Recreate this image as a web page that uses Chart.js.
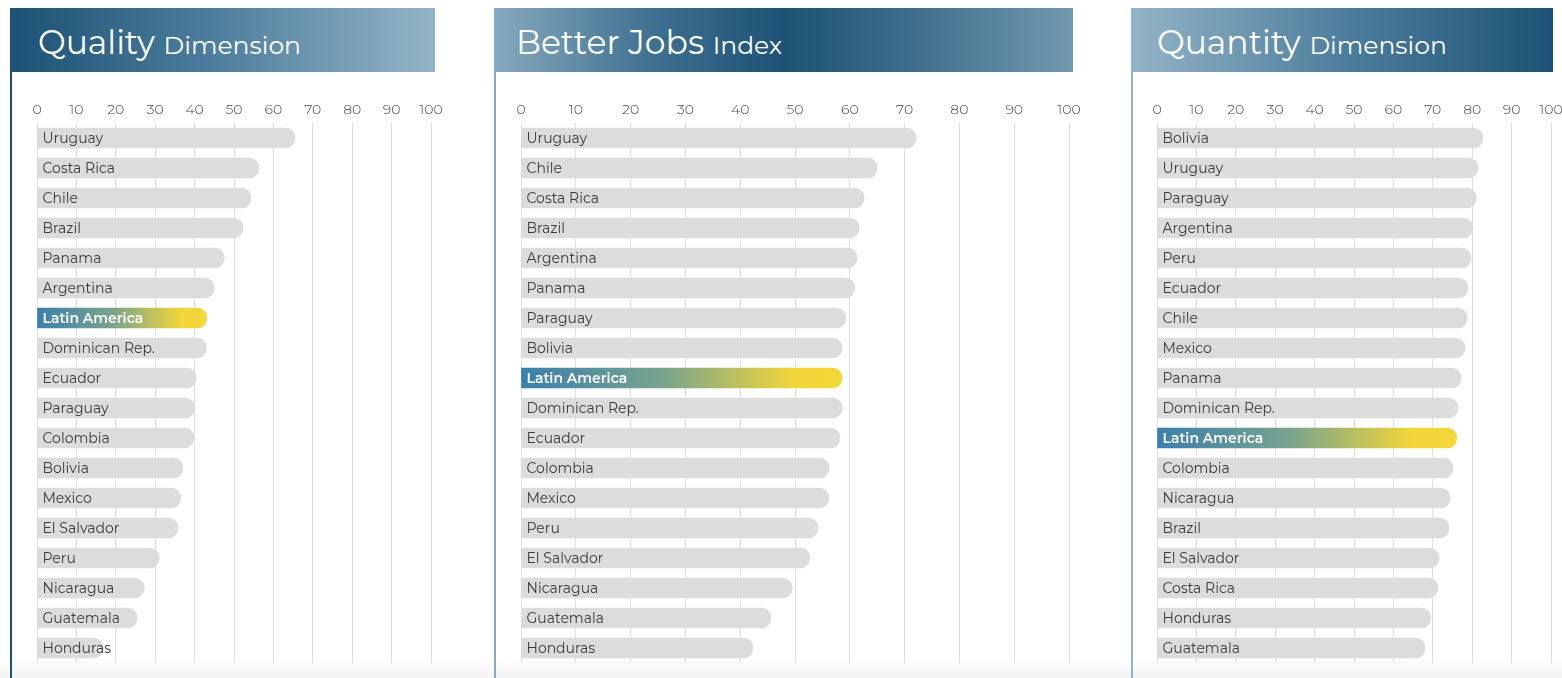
<!DOCTYPE html>
<html>
<head>
<meta charset="utf-8">
<script src="https://cdn.jsdelivr.net/npm/chart.js@4"></script>
<style>
  body { margin: 0; width: 1562px; height: 678px; background: #fff; overflow: hidden; position: relative; font-family: "Montserrat", "Open Sans", sans-serif; }
  .strip { position: absolute; left: 0; top: 656px; width: 1562px; height: 22px; background: linear-gradient(#fff, #f3f3f3); }
  .edge { position: absolute; top: 8px; width: 2px; height: 670px; }
  .head { position: absolute; top: 8px; height: 64px; color: #fff; }
  .head span.big { position: absolute; left: 26px; top: 14px; font-size: 33px; white-space: nowrap; }
  .head span.big small { font-size: 25px; }
  canvas { position: absolute; }
</style>
</head>
<body>
<div class="strip"></div>

<div class="edge" style="left:10px;background:#1d5276"></div>
<div class="head" style="left:12px;width:423px;background:linear-gradient(90deg,#1d5276 0%,#4a7b9b 45%,#93b4c6 100%)">
  <span class="big">Quality <small>Dimension</small></span>
</div>

<div class="edge" style="left:494px;background:#88a9bd"></div>
<div class="head" style="left:494px;width:579px;background:linear-gradient(90deg,#86a9bd 0%,#3e6f90 28%,#1d5276 50%,#42728f 75%,#7399b0 100%)">
  <span class="big" style="left:22px">Better Jobs <small>Index</small></span>
</div>

<div class="edge" style="left:1131px;background:#93b4c6"></div>
<div class="head" style="left:1131px;width:422px;background:linear-gradient(90deg,#93b4c6 0%,#4e7e9d 50%,#1d5276 100%)">
  <span class="big">Quantity <small>Dimension</small></span>
</div>

<canvas id="quality" style="left:27px;top:95px" width="425" height="568"></canvas>
<canvas id="jobs" style="left:511px;top:95px" width="579" height="568"></canvas>
<canvas id="quantity" style="left:1147px;top:95px" width="421" height="568"></canvas>

<script>
// Values (0-100 scale)
const qualityCountries = ['Uruguay', 'Costa Rica', 'Chile', 'Brazil', 'Panama', 'Argentina', 'Latin America',
  'Dominican Rep.', 'Ecuador', 'Paraguay', 'Colombia', 'Bolivia', 'Mexico', 'El Salvador', 'Peru',
  'Nicaragua', 'Guatemala', 'Honduras'];
const qualityValues = [65.5, 56.3, 54.3, 52.3, 47.5, 45, 43.1, 43, 40.4, 40, 39.8, 37, 36.5, 35.8, 31, 27.2, 25.4, 16.8];

const jobsCountries = ['Uruguay', 'Chile', 'Costa Rica', 'Brazil', 'Argentina', 'Panama', 'Paraguay', 'Bolivia',
  'Latin America', 'Dominican Rep.', 'Ecuador', 'Colombia', 'Mexico', 'Peru', 'El Salvador', 'Nicaragua',
  'Guatemala', 'Honduras'];
const jobsValues = [72.1, 65, 62.6, 61.7, 61.3, 60.9, 59.3, 58.6, 58.6, 58.6, 58.2, 56.2, 56.2, 54.2, 52.7, 49.5, 45.6, 42.3];

const quantityCountries = ['Bolivia', 'Uruguay', 'Paraguay', 'Argentina', 'Peru', 'Ecuador', 'Chile', 'Mexico',
  'Panama', 'Dominican Rep.', 'Latin America', 'Colombia', 'Nicaragua', 'Brazil', 'El Salvador', 'Costa Rica',
  'Honduras', 'Guatemala'];
const quantityValues = [82.7, 81.5, 81, 80.2, 79.7, 78.9, 78.7, 78.2, 77.2, 76.4, 76.1, 75.1, 74.4, 74.1, 71.6, 71.3, 69.5, 68];

const axisMin = 0;
const axisMax = 100;
const axisStep = 10;
const regionLabel = 'Latin America';

const FONT = '"Montserrat", "Open Sans", sans-serif';

// color for each bar: grey, or a blue->yellow gradient for the region average
function barColor(ctx) {
  const chart = ctx.chart;
  const label = chart.data.labels[ctx.dataIndex];
  if (label !== regionLabel) return '#dcdcdc';
  const area = chart.chartArea;
  const xs = chart.scales.x;
  if (!area || !xs) return '#3a80b0';
  const x0 = xs.getPixelForValue(0);
  const x1 = xs.getPixelForValue(ctx.raw);
  const g = chart.ctx.createLinearGradient(x0, 0, x1, 0);
  g.addColorStop(0, '#3a7fae');
  g.addColorStop(0.45, '#7aa48c');
  g.addColorStop(0.85, '#f2d63a');
  g.addColorStop(1, '#f4d83a');
  return g;
}

// write the country name inside each bar
const insideLabels = {
  id: 'insideLabels',
  afterDatasetsDraw(chart) {
    const c = chart.ctx;
    const meta = chart.getDatasetMeta(0);
    c.save();
    c.textBaseline = 'middle';
    c.textAlign = 'left';
    meta.data.forEach((bar, i) => {
      const name = chart.data.labels[i];
      const isRegion = name === regionLabel;
      c.font = (isRegion ? '600 ' : '400 ') + '14px ' + FONT;
      c.fillStyle = isRegion ? '#ffffff' : '#3a3a3a';
      c.fillText(name, bar.base + 5, bar.y + 1);
    });
    c.restore();
  }
};

function makeChart(id, labels, values, padRight) {
  const ctx = document.getElementById(id).getContext('2d');
  return new Chart(ctx, {
    type: 'bar',
    data: {
      labels: labels,
      datasets: [{
        data: values,
        backgroundColor: barColor,
        barThickness: 20,
        borderRadius: 10,
        borderSkipped: 'start'
      }]
    },
    options: {
      indexAxis: 'y',
      responsive: false,
      animation: false,
      layout: { padding: { left: 10, right: padRight, top: 0, bottom: 0 } },
      plugins: { legend: { display: false }, tooltip: { enabled: false } },
      scales: {
        x: {
          position: 'top',
          min: axisMin,
          max: axisMax,
          afterFit(scale) { scale.height = 28; },
          ticks: { stepSize: axisStep, padding: 5, color: '#4a4a4a', font: { family: FONT, size: 14, weight: '300' }, maxRotation: 0 },
          grid: { color: '#dedede', lineWidth: 1, drawTicks: false },
          border: { display: false }
        },
        y: { display: false }
      }
    },
    plugins: [insideLabels]
  });
}

makeChart('quality', qualityCountries, qualityValues, 21);
makeChart('jobs', jobsCountries, jobsValues, 21);
makeChart('quantity', quantityCountries, quantityValues, 17);
</script>
</body>
</html>
